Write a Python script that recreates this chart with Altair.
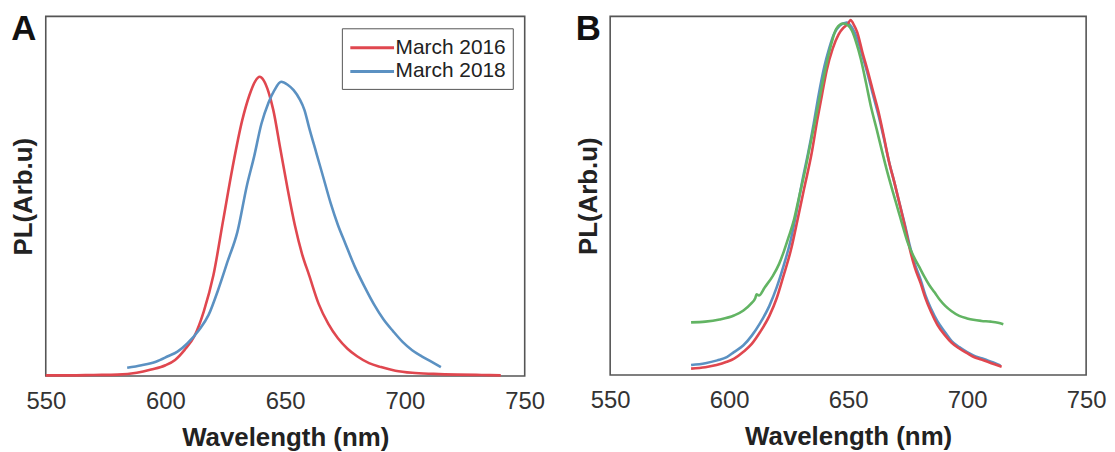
import altair as alt
import pandas as pd

# ---------------- Panel A ----------------
a16_wl = [550, 560, 570, 580, 588, 594, 600, 604, 608, 612, 616, 620, 624, 628, 632, 635, 637.5, 639.3,
          641, 643, 645, 648, 651, 654, 657, 660, 664, 668, 672, 676, 680, 685, 690, 696, 703, 712, 722, 732, 740]
a16_pl = [0.002, 0.002, 0.003, 0.004, 0.009, 0.018, 0.03, 0.045, 0.073, 0.11, 0.18, 0.28, 0.43, 0.58, 0.71,
          0.78, 0.82, 0.832, 0.822, 0.79, 0.74, 0.63, 0.52, 0.42, 0.34, 0.28, 0.2, 0.145, 0.105, 0.076, 0.055,
          0.036, 0.025, 0.015, 0.009, 0.006, 0.004, 0.003, 0.002]

a18_wl = [584, 590, 596, 601, 605, 609, 614, 618, 622, 626, 630, 634, 637, 640, 643, 645.5, 648.3, 651, 653.5,
          656, 658, 660, 663, 666, 669, 672, 675, 679, 683, 687, 691, 695, 699, 703, 707, 711, 715]
a18_pl = [0.023, 0.03, 0.04, 0.055, 0.068, 0.09, 0.128, 0.17, 0.24, 0.32, 0.4, 0.53, 0.61, 0.7, 0.76, 0.795,
          0.818, 0.81, 0.795, 0.77, 0.74, 0.69, 0.62, 0.55, 0.48, 0.42, 0.37, 0.305, 0.25, 0.2, 0.158, 0.125,
          0.095, 0.072, 0.055, 0.04, 0.025]

a_names = ["March 2016", "March 2018"]

# ---------------- Panel B ----------------
b_green_wl = [584, 590, 596, 602, 606, 609, 611, 611.5, 612.5, 615, 618.3, 621, 623, 625, 627.2, 629.5, 631.6,
              634, 636.1, 638.5, 640.5, 643, 645, 647.9, 650, 651.6, 653.5, 655.3, 657.5, 659.7, 662, 664.2,
              666.5, 668.6, 671, 673, 675, 677.5, 680, 681.9, 684, 686.4, 688.5, 690.8, 693.5, 696.7, 700,
              702.6, 706, 710, 713, 715.2]
b_green_pl = [0.147, 0.149, 0.155, 0.166, 0.18, 0.198, 0.215, 0.225, 0.222, 0.245, 0.276, 0.31, 0.345, 0.385,
              0.432, 0.5, 0.561, 0.64, 0.708, 0.79, 0.855, 0.925, 0.965, 0.98, 0.975, 0.96, 0.925, 0.882, 0.815,
              0.745, 0.685, 0.625, 0.565, 0.515, 0.46, 0.414, 0.37, 0.331, 0.3, 0.276, 0.252, 0.23, 0.21, 0.193,
              0.178, 0.165, 0.158, 0.154, 0.151, 0.149, 0.146, 0.142]

b_blue_wl = [584, 590, 595, 599, 602, 606, 609.5, 613, 616.9, 620, 622.8, 626, 628.7, 631, 633.1, 635.5, 637.6,
             640, 642, 644, 646.4, 649.4, 651.5, 653.8, 656, 658.3, 660.5, 662.7, 665, 667.1, 669.5, 671.6, 674,
             676, 678, 680.4, 682.5, 684.9, 687.5, 690.8, 693.5, 696.7, 700, 702.6, 706, 708.6, 711, 714]
b_blue_pl = [0.028, 0.033, 0.041, 0.05, 0.064, 0.083, 0.11, 0.145, 0.193, 0.245, 0.303, 0.38, 0.469, 0.55, 0.616,
             0.7, 0.781, 0.86, 0.91, 0.95, 0.974, 0.983, 0.97, 0.938, 0.89, 0.837, 0.78, 0.726, 0.66, 0.597,
             0.535, 0.478, 0.415, 0.358, 0.31, 0.267, 0.222, 0.184, 0.15, 0.119, 0.095, 0.078, 0.064, 0.055,
             0.047, 0.041, 0.035, 0.027]

b_red_wl = [584, 590, 594.7, 599, 602.1, 606, 609.5, 613, 616.9, 620, 622.8, 626, 628.7, 631.5, 634.6, 637, 639,
            641, 643.5, 646, 648, 650, 651, 652.5, 653.8, 656, 658.3, 660.5, 662.7, 665, 667.1, 669.5, 671.6,
            674, 676, 678, 680.4, 682.5, 684.9, 687.5, 690.8, 693.5, 696.7, 700, 702.6, 706, 708.6, 711.5, 714.5]
b_red_pl = [0.018, 0.022, 0.028, 0.037, 0.046, 0.065, 0.087, 0.12, 0.165, 0.215, 0.276, 0.35, 0.432, 0.52, 0.616,
            0.71, 0.781, 0.85, 0.91, 0.95, 0.968, 0.98, 0.99, 0.975, 0.956, 0.9, 0.846, 0.79, 0.735, 0.665, 0.597,
            0.535, 0.478, 0.41, 0.349, 0.3, 0.257, 0.214, 0.175, 0.14, 0.11, 0.09, 0.074, 0.061, 0.051, 0.043,
            0.037, 0.03, 0.023]

x_ticks = [550, 600, 650, 700, 750]
panel_labels = ["A", "B"]

RED = "#e0474f"
BLUE = "#5b91c2"
GREEN = "#62b463"
FONT = "Liberation Sans"


def to_df(name, wl, pl):
    return pd.DataFrame({"series": name, "wl": wl, "pl": pl})


def x_enc():
    return alt.X("wl:Q",
                 scale=alt.Scale(domain=[550, 750], nice=False, zero=False),
                 axis=alt.Axis(values=x_ticks, title="Wavelength (nm)", labelFlush=False,
                               labelOverlap=False, ticks=False, tickSize=0, domain=False, grid=False,
                               labelPadding=14, titlePadding=11, format="d",
                               labelFont=FONT, labelFontSize=24, labelColor="#333",
                               titleFont=FONT, titleFontSize=26, titleFontWeight="bold", titleColor="#222"))


def y_enc():
    return alt.Y("pl:Q",
                 scale=alt.Scale(domain=[0, 1], nice=False, zero=False),
                 axis=alt.Axis(title="PL(Arb.u)", labels=False, ticks=False, domain=False, grid=False,
                               titlePadding=9,
                               titleFont=FONT, titleFontSize=26, titleFontWeight="bold", titleColor="#222"))


def panel_label(txt):
    return alt.Chart(pd.DataFrame({"t": [txt]})).mark_text(
        fontSize=35, fontWeight="bold", font=FONT, align="center", baseline="alphabetic", color="#111"
    ).encode(text="t:N", x=alt.value(-22), y=alt.value(24))


# Panel A
df_a = pd.concat([to_df(a_names[0], a16_wl, a16_pl), to_df(a_names[1], a18_wl, a18_pl)])
lines_a = alt.Chart(df_a).mark_line(strokeWidth=2.6, interpolate="monotone").encode(
    x=x_enc(), y=y_enc(),
    color=alt.Color("series:N",
                    scale=alt.Scale(domain=a_names, range=[RED, BLUE]),
                    legend=alt.Legend(title=None, orient="none", legendX=298, legendY=12,
                                      symbolType="M-2,0L2,0", symbolSize=484, symbolStrokeWidth=3,
                                      symbolOffset=11, labelOffset=11,
                                      labelFontSize=21, labelFont=FONT, labelColor="#222",
                                      strokeColor="#555", fillColor="white", padding=7, rowPadding=1)),
)
panel_a = alt.layer(lines_a, panel_label(panel_labels[0])).properties(width=482, height=362)

# Panel B
def b_line(name, wl, pl, col):
    return alt.Chart(to_df(name, wl, pl)).mark_line(strokeWidth=2.6, interpolate="monotone", color=col).encode(
        x=x_enc(), y=y_enc())

panel_b = alt.layer(
    b_line("blue", b_blue_wl, b_blue_pl, BLUE),
    b_line("red", b_red_wl, b_red_pl, RED),
    b_line("green", b_green_wl, b_green_pl, GREEN),
    panel_label(panel_labels[1]),
).properties(width=479, height=361)

chart = alt.hconcat(panel_a, panel_b, spacing=29).properties(
    padding={"left": 2, "top": 2, "right": 0, "bottom": 0},
    background="white",
).configure_view(stroke="#555", strokeWidth=1.6)

chart.save("out.html", embed_options={"renderer": "svg", "actions": False})
